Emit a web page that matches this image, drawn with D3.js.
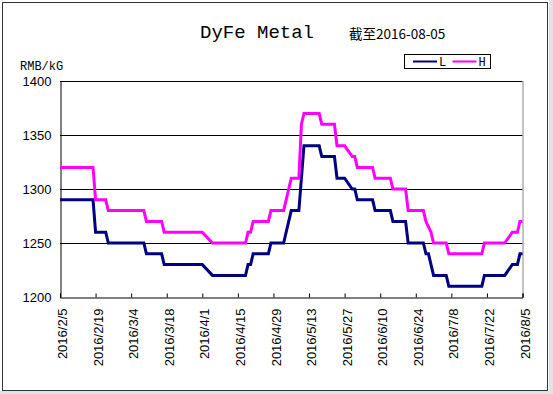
<!DOCTYPE html>
<html><head><meta charset="utf-8">
<script src="https://cdn.jsdelivr.net/npm/d3@7"></script>
<style>body{margin:0;background:#fff}svg{display:block}</style>
</head><body>
<script>
// ---- data ----
const titleText = "DyFe Metal";
const subTitle = "截至2016-08-05";
const unitLabel = "RMB/kG";
const seriesNames = ["L", "H"];
const seriesColors = ["#000080", "#ff00ff"];
const startDate = "2016-02-05";
const endDate = "2016-08-05";
const holidays = ["2016-02-08","2016-02-09","2016-02-10","2016-02-11","2016-02-12",
                  "2016-04-04","2016-05-02","2016-06-09","2016-06-10"];
const tickLabels = ["2016/2/5","2016/2/19","2016/3/4","2016/3/18","2016/4/1","2016/4/15",
                    "2016/4/29","2016/5/13","2016/5/27","2016/6/10","2016/6/24","2016/7/8",
                    "2016/7/22","2016/8/5"];
const yTicks = [1200, 1250, 1300, 1350, 1400];
const seriesL = [
  1290,
  1290,1290,1290,1290,1260,
  1260,1260,1250,1250,1250,
  1250,1250,1250,1250,1250,
  1250,1250,1250,1240,1240,
  1240,1240,1240,1230,1230,
  1230,1230,1230,1230,1230,
  1230,1230,1230,1230,1230,
  1220,1220,1220,1220,
  1220,1220,1220,1220,1220,
  1220,1230,1230,1240,1240,
  1240,1240,1240,1250,1250,
  1250,1260,1270,1280,
  1280,1310,1340,1340,1340,
  1340,1340,1330,1330,1330,
  1330,1310,1310,1310,1310,
  1300,1300,1290,1290,1290,
  1290,1290,1280,
  1280,1280,1270,1270,1270,
  1270,1250,1250,1250,1250,
  1250,1240,1240,1230,1220,
  1220,1220,1220,1210,1210,
  1210,1210,1210,1210,1210,
  1210,1210,1210,1220,1220,
  1220,1220,1220,1220,1220,
  1230,1230,1230,1240,1240
];
const seriesH = [
  1320,
  1320,1320,1320,1320,1290,
  1290,1290,1280,1280,1280,
  1280,1280,1280,1280,1280,
  1280,1280,1280,1270,1270,
  1270,1270,1270,1260,1260,
  1260,1260,1260,1260,1260,
  1260,1260,1260,1260,1260,
  1250,1250,1250,1250,
  1250,1250,1250,1250,1250,
  1250,1260,1260,1270,1270,
  1270,1270,1270,1280,1280,
  1280,1290,1300,1310,
  1310,1360,1370,1370,1370,
  1370,1370,1360,1360,1360,
  1360,1340,1340,1340,1340,
  1330,1330,1320,1320,1320,
  1320,1320,1310,
  1310,1310,1300,1300,1300,
  1300,1280,1280,1280,1280,
  1280,1270,1265,1260,1250,
  1250,1250,1250,1240,1240,
  1240,1240,1240,1240,1240,
  1240,1240,1240,1250,1250,
  1250,1250,1250,1250,1250,
  1260,1260,1260,1270,1270
];

// ---- chart ----
const W = 553, H = 394;
const plot = {left: 60, right: 522.5, top: 81, bottom: 297};
const parseISO = d3.utcParse("%Y-%m-%d");
const parseTick = d3.utcParse("%Y/%m/%d");
const fmtISO = d3.utcFormat("%Y-%m-%d");
const d0 = parseISO(startDate), d1 = parseISO(endDate);
const tradingDays = d3.utcDays(d0, d3.utcDay.offset(d1, 1))
  .filter(d => d.getUTCDay() % 6 !== 0 && !holidays.includes(fmtISO(d)));

const x = d3.scaleUtc().domain([d0, d1]).range([plot.left, plot.right]);
const y = d3.scaleLinear().domain([1200, 1400]).range([plot.bottom, plot.top]);

const svg = d3.select("body").append("svg").attr("width", W).attr("height", H);
svg.append("rect").attr("width", W).attr("height", H).attr("fill", "#dfe3e8");
svg.append("rect").attr("x", 0).attr("y", 0).attr("width", 549).attr("height", 391).attr("fill", "#fff");
svg.append("rect").attr("x", 2.5).attr("y", 2.5).attr("width", 545).attr("height", 388)
  .attr("fill", "#fff").attr("stroke", "#333").attr("stroke-width", 1);

// gridlines
svg.append("g").selectAll("line").data(yTicks.filter(v => v > 1200)).join("line")
  .attr("x1", plot.left).attr("x2", plot.right)
  .attr("y1", d => Math.round(y(d)) + 0.5).attr("y2", d => Math.round(y(d)) + 0.5)
  .attr("stroke", "#000").attr("stroke-width", 1);
// right border
svg.append("line").attr("x1", plot.right + 0.5).attr("x2", plot.right + 0.5)
  .attr("y1", plot.top).attr("y2", plot.bottom).attr("stroke", "#888");

// y axis
const yAxis = svg.append("g").attr("transform", `translate(${plot.left + 0.5},0)`)
  .call(d3.axisLeft(y).tickValues(yTicks).tickSize(0).tickPadding(9).tickFormat(d3.format("d")));
yAxis.select(".domain").attr("stroke", "#000");
yAxis.selectAll("text").attr("font-family", "Liberation Sans, Arial, sans-serif")
  .attr("font-size", 13).attr("fill", "#000");

// x axis
const tickDates = tickLabels.map(parseTick);
const xAxis = svg.append("g").attr("transform", `translate(0,${plot.bottom + 0.5})`)
  .call(d3.axisTop(x).tickValues(tickDates).tickSize(4).tickFormat((d, i) => tickLabels[i]));
xAxis.select(".domain").attr("stroke", "#000");
xAxis.selectAll(".tick line").attr("stroke", "#000");
xAxis.selectAll("text")
  .attr("font-family", "Liberation Sans, Arial, sans-serif").attr("font-size", 13).attr("fill", "#000")
  .attr("text-anchor", "end").attr("transform", "rotate(-90)")
  .attr("x", -11).attr("y", 2).attr("dy", "0.35em");

// lines
const line = d3.line().x((d, i) => x(tradingDays[i])).y(d => y(d));
[seriesL, seriesH].forEach((s, k) => {
  svg.append("path").datum(s).attr("d", line).attr("fill", "none")
    .attr("stroke", seriesColors[k]).attr("stroke-width", 3).attr("stroke-linejoin", "miter");
});

// titles
svg.append("text").attr("x", 257).attr("y", 38).attr("text-anchor", "middle")
  .attr("font-family", "Liberation Mono, Courier New, monospace").attr("font-size", 19)
  .text(titleText);
svg.append("text").attr("x", 349).attr("y", 39)
  .attr("font-family", "Noto Sans CJK SC, sans-serif").attr("font-size", 13.5)
  .text(subTitle);
svg.append("text").attr("x", 20).attr("y", 70)
  .attr("font-family", "Liberation Mono, Courier New, monospace").attr("font-size", 12)
  .text(unitLabel);

// legend
const lg = svg.append("g");
lg.append("rect").attr("x", 404.5).attr("y", 54.5).attr("width", 86).attr("height", 14)
  .attr("fill", "#fff").attr("stroke", "#000");
seriesNames.forEach((n, k) => {
  const x0 = 413 + k * 39.5;
  lg.append("line").attr("x1", x0).attr("x2", x0 + 24).attr("y1", 61.5).attr("y2", 61.5)
    .attr("stroke", seriesColors[k]).attr("stroke-width", 2);
  lg.append("text").attr("x", x0 + 26).attr("y", 66)
    .attr("font-family", "Liberation Mono, Courier New, monospace").attr("font-size", 12).text(n);
});
</script>
</body></html>
